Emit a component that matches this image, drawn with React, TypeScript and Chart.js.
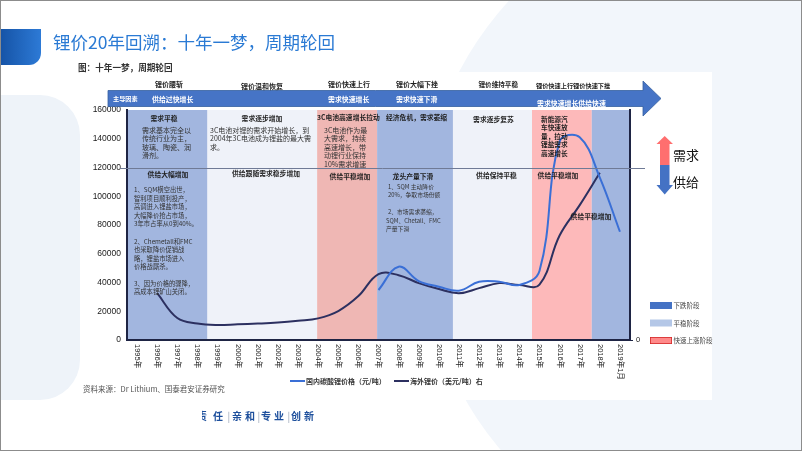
import React, { useEffect, useRef } from 'react';
import { Chart, registerables } from 'chart.js';

Chart.register(...registerables);

// ---------------- data ----------------
const years = [
  '1995年', '1996年', '1997年', '1998年', '1999年', '2000年', '2001年', '2002年', '2003年',
  '2004年', '2005年', '2006年', '2007年', '2008年', '2009年', '2010年', '2011年', '2012年',
  '2013年', '2014年', '2015年', '2016年', '2017年', '2018年', '2019年1月',
];

// 国内碳酸锂价格（元/吨） - left axis
const domesticPrice: (number | null)[] = [
  null, null, null, null, null, null, null, null, null, null, null, null,
  34800, 51000, 41000, 37100, 34300, 40500, 40500, 38300, 48000, 138000, 141000, 113000, 75300,
];

// 海外锂价（美元/吨） - right axis
const overseasPrice: (number | null)[] = [
  null, 4480, 2100, 1570, 1430, 1500, 1570, 1670, 1840, 2070, 2770, 4200,
  6300, 6200, 5440, 4870, 4480, 4960, 5440, 5250, 5300, 10000, 12900, 16000, null,
];

const leftMax = 160000;
const leftStep = 20000;
const rightMax = 22000;
const rightStep = 5000;
const dividerValue = 120000;

// phases (category index units): fall = 下跌阶段, flat = 平稳阶段, rise = 快速上涨阶段
const phaseFrom = [-0.5, 3.5, 8.95, 11.93, 15.7, 19.63, 22.6];
const phaseTo = [3.5, 8.95, 11.93, 15.7, 19.63, 22.6, 24.5];
const phaseKind = ['fall', 'flat', 'rise1', 'fall', 'flat', 'rise2', 'fall'];

const seriesNames = ['国内碳酸锂价格（元/吨）', '海外锂价（美元/吨）右'];
const legendNames = ['下跌阶段', '平稳阶段', '快速上涨阶段'];

// ---------------- styles ----------------
const CJK = '"Noto Sans CJK SC", "Liberation Sans", sans-serif';
const LAT = '"Liberation Sans", "Noto Sans CJK SC", sans-serif';
const AXIS = '#1e2444';
const BLUE_LINE = '#3a6fd6';
const DARK_LINE = '#2c3060';
const bandColors: Record<string, string> = {
  fall: '#a2b6df',
  flat: '#eff2f9',
  rise1: '#efb7b4',
  rise2: '#fdb9ba',
};

type Note = { t: string; x: number; y: number; s: number; b?: boolean; a?: CanvasTextAlign; c?: string };

const notes: Note[] = [
  // band 1
  { t: '需求平稳', x: 164, y: 118, s: 6.8, b: true, a: 'center' },
  { t: '需求基本完全以', x: 142, y: 130, s: 7 },
  { t: '传统行业为主，', x: 142, y: 138.5, s: 7 },
  { t: '玻璃、陶瓷、润', x: 142, y: 147, s: 7 },
  { t: '滑剂。', x: 142, y: 155.5, s: 7 },
  { t: '供给大幅增加', x: 168, y: 174.5, s: 6.8, b: true, a: 'center' },
  { t: '1、SQM横空出世，', x: 134, y: 190, s: 6.3 },
  { t: '智利项目顺利投产，', x: 134, y: 198.5, s: 6.3 },
  { t: '高调进入锂盐市场，', x: 134, y: 207, s: 6.3 },
  { t: '大幅降价抢占市场，', x: 134, y: 215.5, s: 6.3 },
  { t: '3年市占率从0到40%。', x: 134, y: 224, s: 6.3 },
  { t: '2、Chemetall和FMC', x: 134, y: 241.5, s: 6.3 },
  { t: '也采取降价促销战', x: 134, y: 250, s: 6.3 },
  { t: '略，锂盐市场进入', x: 134, y: 258.5, s: 6.3 },
  { t: '价格战厮杀。', x: 134, y: 267, s: 6.3 },
  { t: '3、因为价格的骤降，', x: 134, y: 283.5, s: 6.3 },
  { t: '高成本锂矿山关闭。', x: 134, y: 292, s: 6.3 },
  // band 2
  { t: '需求逐步增加', x: 262, y: 118, s: 6.8, b: true, a: 'center' },
  { t: '3C电池对锂的需求开始增长，到', x: 210, y: 130, s: 7 },
  { t: '2004年3C电池成为锂盐的最大需', x: 210, y: 138.5, s: 7 },
  { t: '求。', x: 210, y: 147, s: 7 },
  { t: '供给跟随需求稳步增加', x: 266, y: 173.5, s: 6.8, b: true, a: 'center' },
  // band 3
  { t: '3C电池高速增长拉动', x: 317, y: 117.5, s: 6.8, b: true },
  { t: '3C电池作为最', x: 324, y: 130, s: 7 },
  { t: '大需求，持续', x: 324, y: 138.5, s: 7 },
  { t: '高速增长，带', x: 324, y: 147, s: 7 },
  { t: '动锂行业保持', x: 324, y: 155.5, s: 7 },
  { t: '10%需求增速', x: 324, y: 164, s: 7 },
  { t: '供给平稳增加', x: 350, y: 176, s: 6.8, b: true, a: 'center' },
  // band 4
  { t: '经济危机，需求萎缩', x: 386, y: 117.5, s: 6.8, b: true },
  { t: '龙头产量下滑', x: 413, y: 176, s: 6.8, b: true, a: 'center' },
  { t: '1、SQM 主动降价', x: 388, y: 186.5, s: 5.8 },
  { t: '20%，争取市场份额', x: 388, y: 195, s: 5.8 },
  { t: '2、市场需求萎缩，', x: 388, y: 212, s: 5.8 },
  { t: 'SQM、Chetall、FMC', x: 386, y: 220.5, s: 5.8 },
  { t: '产量下滑', x: 386, y: 229, s: 5.8 },
  // band 5
  { t: '需求逐步复苏', x: 493.5, y: 119, s: 6.8, b: true, a: 'center' },
  { t: '供给保持平稳', x: 496.5, y: 175, s: 6.8, b: true, a: 'center' },
  // band 6
  { t: '新能源汽', x: 541, y: 119, s: 6.7, b: true },
  { t: '车快速放', x: 541, y: 127.6, s: 6.7, b: true },
  { t: '量，拉动', x: 541, y: 136.2, s: 6.7, b: true },
  { t: '锂盐需求', x: 541, y: 144.8, s: 6.7, b: true },
  { t: '高速增长', x: 541, y: 153.4, s: 6.7, b: true },
  { t: '供给平稳增加', x: 558, y: 175, s: 6.8, b: true, a: 'center' },
  // band 7
  { t: '供给平稳增加', x: 591, y: 216.5, s: 6.8, b: true, a: 'center' },
];

const topNotes: Note[] = [
  { t: '锂价腰斩', x: 155, y: 84, s: 7, b: true },
  { t: '锂价温和恢复', x: 241, y: 86, s: 7, b: true },
  { t: '锂价快速上行', x: 328, y: 84, s: 7, b: true },
  { t: '锂价大幅下挫', x: 396, y: 84.5, s: 7, b: true },
  { t: '锂价维持平稳', x: 478.5, y: 84.5, s: 6.6, b: true },
  { t: '锂价快速上行锂价快速下挫', x: 536, y: 86, s: 6.2, b: true },
  { t: '主导因素', x: 113, y: 99, s: 6.2, b: true, c: '#ffffff' },
  { t: '供给过快增长', x: 152, y: 99, s: 6.9, b: true, c: '#ffffff' },
  { t: '需求快速增长', x: 328, y: 99, s: 6.9, b: true, c: '#ffffff' },
  { t: '需求快速下滑', x: 396, y: 99, s: 6.9, b: true, c: '#ffffff' },
  { t: '需求快速增长供给快速', x: 537, y: 103.5, s: 6.9, b: true, c: '#ffffff' },
];

function drawText(ctx: CanvasRenderingContext2D, n: Note) {
  ctx.font = `${n.b ? 'bold ' : ''}${n.s}px ${CJK}`;
  ctx.fillStyle = n.c || (n.b ? '#1f1f1f' : '#333333');
  ctx.textAlign = n.a || 'left';
  ctx.textBaseline = 'middle';
  ctx.fillText(n.t, n.x, n.y);
}

const slidePlugin = {
  id: 'slideDecor',
  beforeDraw(chart: any) {
    const { ctx, chartArea: ca, scales } = chart;
    ctx.save();
    ctx.fillStyle = '#ffffff';
    ctx.fillRect(88, 72, 624, 328);
    const xs = scales.x;
    for (let i = 0; i < phaseFrom.length; i++) {
      const x1 = xs.getPixelForValue(phaseFrom[i]);
      const x2 = xs.getPixelForValue(phaseTo[i]);
      ctx.fillStyle = bandColors[phaseKind[i]];
      ctx.fillRect(x1, ca.top, x2 - x1, ca.bottom - ca.top);
    }
    ctx.restore();
  },
  afterDatasetsDraw(chart: any) {
    const { ctx, scales } = chart;
    ctx.save();
    const yLine = Math.round(scales.y.getPixelForValue(dividerValue)) + 0.5;
    ctx.strokeStyle = '#6f7a96';
    ctx.lineWidth = 1;
    ctx.beginPath();
    ctx.moveTo(120, yLine);
    ctx.lineTo(645, yLine);
    ctx.stroke();
    notes.forEach((n) => drawText(ctx, n));
    ctx.restore();
  },
  afterDraw(chart: any) {
    const { ctx, chartArea: ca, scales } = chart;
    ctx.save();
    // rotated x tick labels (reading top to bottom)
    const xs = scales.x;
    ctx.font = `7.5px ${LAT}`;
    ctx.fillStyle = '#222222';
    ctx.textAlign = 'left';
    ctx.textBaseline = 'middle';
    years.forEach((lab, i) => {
      const px = xs.getPixelForTick(i);
      ctx.save();
      ctx.translate(px, ca.bottom + 4);
      ctx.rotate(Math.PI / 2);
      ctx.fillText(lab, 0, 0);
      ctx.restore();
    });

    // top arrow
    ctx.beginPath();
    ctx.moveTo(108, 90.5);
    ctx.lineTo(643, 90.5);
    ctx.lineTo(643, 81);
    ctx.lineTo(661, 98.5);
    ctx.lineTo(643, 116);
    ctx.lineTo(643, 106.5);
    ctx.lineTo(108, 106.5);
    ctx.closePath();
    ctx.fillStyle = '#4674c6';
    ctx.fill();
    ctx.strokeStyle = '#35609f';
    ctx.lineWidth = 0.8;
    ctx.stroke();
    topNotes.forEach((n) => drawText(ctx, n));

    // demand / supply arrow
    ctx.fillStyle = '#ff6f6f';
    ctx.beginPath();
    ctx.moveTo(660, 165);
    ctx.lineTo(660, 144);
    ctx.lineTo(656.5, 144);
    ctx.lineTo(664.7, 136);
    ctx.lineTo(673, 144);
    ctx.lineTo(669.5, 144);
    ctx.lineTo(669.5, 165);
    ctx.closePath();
    ctx.fill();
    ctx.fillStyle = '#4472c4';
    ctx.beginPath();
    ctx.moveTo(660, 165);
    ctx.lineTo(660, 185);
    ctx.lineTo(656.5, 185);
    ctx.lineTo(664.7, 194.5);
    ctx.lineTo(673, 185);
    ctx.lineTo(669.5, 185);
    ctx.lineTo(669.5, 165);
    ctx.closePath();
    ctx.fill();
    ctx.font = `13px ${CJK}`;
    ctx.fillStyle = '#151515';
    ctx.textAlign = 'left';
    ctx.textBaseline = 'middle';
    ctx.fillText('需求', 673, 155);
    ctx.fillText('供给', 673, 182);

    // phase legend
    const boxY = [302, 319.5, 337];
    const boxC = ['#4472c4', '#b4c7e7', '#ff8a8a'];
    legendNames.forEach((name, i) => {
      ctx.fillStyle = boxC[i];
      ctx.fillRect(650, boxY[i], 22, 7);
      if (i === 2) {
        ctx.strokeStyle = '#d42a2a';
        ctx.lineWidth = 0.8;
        ctx.strokeRect(650.4, boxY[i] + 0.4, 21.2, 6.2);
      }
      ctx.font = `6.5px ${CJK}`;
      ctx.fillStyle = '#444444';
      ctx.fillText(name, 673.5, boxY[i] + 3.7);
    });

    // series legend (bottom)
    const legX = [290, 394];
    const legC = [BLUE_LINE, DARK_LINE];
    seriesNames.forEach((name, i) => {
      ctx.strokeStyle = legC[i];
      ctx.lineWidth = 2;
      ctx.beginPath();
      ctx.moveTo(legX[i], 381);
      ctx.lineTo(legX[i] + 15, 381);
      ctx.stroke();
      ctx.font = `bold 7px ${CJK}`;
      ctx.fillStyle = '#333333';
      ctx.fillText(name, legX[i] + 16, 381);
    });
    ctx.restore();
  },
};

function ChartCanvas() {
  const ref = useRef<HTMLCanvasElement | null>(null);
  useEffect(() => {
    if (!ref.current) return;
    const chart = new Chart(ref.current, {
      type: 'line',
      data: {
        labels: years,
        datasets: [
          {
            label: seriesNames[0],
            data: domesticPrice,
            yAxisID: 'y',
            borderColor: BLUE_LINE,
            borderWidth: 2,
            pointRadius: 0,
            tension: 0.4,
            fill: false,
          },
          {
            label: seriesNames[1],
            data: overseasPrice,
            yAxisID: 'y1',
            borderColor: DARK_LINE,
            borderWidth: 2,
            pointRadius: 0,
            tension: 0.4,
            fill: false,
          },
        ],
      },
      options: {
        responsive: false,
        animation: false,
        devicePixelRatio: 1,
        layout: { padding: { left: 87, right: 132, top: 110, bottom: 71 } },
        plugins: { legend: { display: false }, tooltip: { enabled: false } },
        scales: {
          x: {
            type: 'category',
            offset: true,
            grid: { display: false, drawTicks: false },
            border: { display: true, color: AXIS, width: 2 },
            ticks: { display: false },
            afterFit: (s: any) => {
              s.height = 40;
            },
          },
          y: {
            position: 'left',
            min: 0,
            max: leftMax,
            grid: { display: false, drawTicks: false },
            border: { display: true, color: AXIS, width: 2 },
            ticks: {
              stepSize: leftStep,
              padding: 6,
              color: '#1a1a1a',
              font: { family: LAT, size: 8.5 },
              callback: (v: any) => String(v),
            },
            afterFit: (s: any) => {
              s.width = 40;
            },
          },
          y1: {
            position: 'right',
            min: 0,
            max: rightMax,
            grid: { display: true, drawOnChartArea: false, drawTicks: true, tickLength: 3, color: AXIS },
            border: { display: true, color: AXIS, width: 2 },
            ticks: {
              stepSize: rightStep,
              padding: 3,
              color: '#1a1a1a',
              font: { family: LAT, size: 7.5 },
              callback: (v: any) => String(v),
            },
            afterBuildTicks: (s: any) => {
              s.ticks = s.ticks.filter((t: any) => t.value % rightStep === 0);
            },
            afterFit: (s: any) => {
              s.width = 40;
            },
          },
        },
      },
      plugins: [slidePlugin],
    } as any);
    return () => chart.destroy();
  }, []);
  return (
    <canvas
      ref={ref}
      width={802}
      height={451}
      style={{ position: 'absolute', left: 0, top: 0, width: 802, height: 451, display: 'block' }}
    />
  );
}

const footerParts: [string, number][] = [
  ['责', -5], ['任', 11], ['|', 25.5], ['亲', 30], ['和', 43], ['|', 55.5], ['专', 59], ['业', 72], ['|', 85.5], ['创', 89], ['新', 102],
];

export default function App() {
  return (
    <div
      style={{
        position: 'fixed',
        left: 0,
        top: 0,
        width: 802,
        height: 451,
        overflow: 'hidden',
        background: '#ffffff',
        fontFamily: CJK,
      }}
    >
      {/* background decorations */}
      <div style={{ position: 'absolute', left: 420, top: -110, width: 680, height: 680, borderRadius: '50%', background: '#f2f6fb' }} />
      <div style={{ position: 'absolute', left: -40, top: 95, width: 120, height: 305, borderRadius: 40, background: '#eef3f9' }} />

      <ChartCanvas />

      {/* title block */}
      <div
        style={{
          position: 'absolute',
          left: 0,
          top: 29,
          width: 41,
          height: 36,
          background: 'linear-gradient(90deg, #1553a6, #2d7ad6)',
          borderRadius: '0 0 12px 0',
        }}
      />
      <div
        style={{
          position: 'absolute',
          left: 53,
          top: 32,
          fontSize: 17.5,
          lineHeight: '19px',
          color: '#2a7ad4',
          whiteSpace: 'nowrap',
        }}
      >
        锂价20年回溯：十年一梦，周期轮回
      </div>
      <div
        style={{
          position: 'absolute',
          left: 78,
          top: 62,
          fontSize: 8.6,
          lineHeight: '10px',
          fontWeight: 'bold',
          color: '#333',
          whiteSpace: 'nowrap',
        }}
      >
        图：十年一梦，周期轮回
      </div>
      <div
        style={{
          position: 'absolute',
          left: 83,
          top: 384,
          fontSize: 7.5,
          lineHeight: '10px',
          color: '#555',
          whiteSpace: 'nowrap',
        }}
      >
        资料来源：Dr Lithium、国泰君安证券研究
      </div>

      {/* footer motto */}
      <div style={{ position: 'absolute', left: 202, top: 409, width: 120, height: 14, overflow: 'hidden' }}>
        {footerParts.map(([ch, x], i) => (
          <span
            key={i}
            style={{
              position: 'absolute',
              left: x,
              top: 0,
              fontSize: ch === '|' ? 10 : 10,
              lineHeight: '14px',
              fontWeight: ch === '|' ? 'normal' : 'bold',
              color: ch === '|' ? '#9aa6b8' : '#1d4f9c',
            }}
          >
            {ch}
          </span>
        ))}
      </div>

      {/* frame */}
      <div
        style={{
          position: 'absolute',
          left: 0,
          top: 0,
          width: 802,
          height: 451,
          boxSizing: 'border-box',
          border: '1px solid #8c8c8c',
          pointerEvents: 'none',
        }}
      />
    </div>
  );
}
